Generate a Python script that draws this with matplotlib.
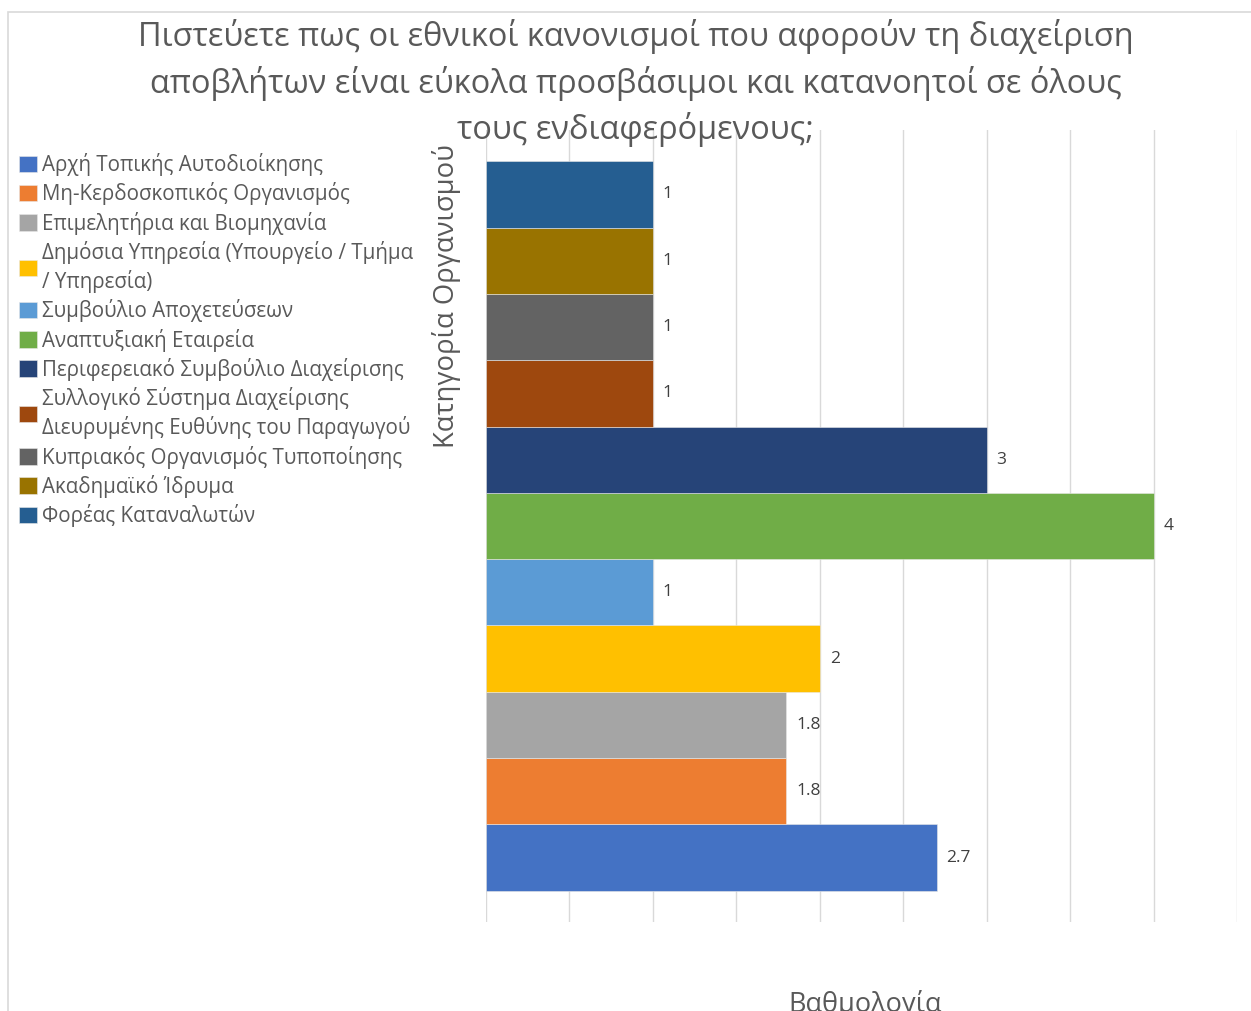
import matplotlib.pyplot as plt
from matplotlib.patches import Rectangle

plt.rcParams['font.family'] = ['Open Sans', 'DejaVu Sans']

# bars listed bottom to top
categories = [
    "Αρχή Τοπικής Αυτοδιοίκησης",
    "Μη-Κερδοσκοπικός Οργανισμός",
    "Επιμελητήρια και Βιομηχανία",
    "Δημόσια Υπηρεσία (Υπουργείο / Τμήμα\n/ Υπηρεσία)",
    "Συμβούλιο Αποχετεύσεων",
    "Αναπτυξιακή Εταιρεία",
    "Περιφερειακό Συμβούλιο Διαχείρισης",
    "Συλλογικό Σύστημα Διαχείρισης\nΔιευρυμένης Ευθύνης του Παραγωγού",
    "Κυπριακός Οργανισμός Τυποποίησης",
    "Ακαδημαϊκό Ίδρυμα",
    "Φορέας Καταναλωτών",
]
values = [2.7, 1.8, 1.8, 2, 1, 4, 3, 1, 1, 1, 1]
colors = ["#4472C4", "#ED7D31", "#A5A5A5", "#FFC000", "#5B9BD5", "#70AD47",
          "#264478", "#9E480E", "#636363", "#997300", "#255E91"]

title = ("Πιστεύετε πως οι εθνικοί κανονισμοί που αφορούν τη διαχείριση\n"
         "αποβλήτων είναι εύκολα προσβάσιμοι και κατανοητοί σε όλους\n"
         "τους ενδιαφερόμενους;")

fig = plt.figure(figsize=(12.51, 10.11), dpi=100)
fig.patches.append(Rectangle((8 / 1251, -0.1), 1.2, 1.1 - 12 / 1011,
                             transform=fig.transFigure, fill=False,
                             edgecolor="#D9D9D9", linewidth=1.2, zorder=0))

ax = fig.add_axes([486 / 1251, 1 - 922 / 1011, (1237 - 486) / 1251, (922 - 130) / 1011])

bars = []
for i, (cat, val, col) in enumerate(zip(categories, values, colors)):
    b = ax.barh(i, val, height=1.0, color=col, label=cat,
                edgecolor="#E8E8E8", linewidth=0.4, zorder=3)
    bars.append(b)
    ax.text(val + 0.06, i, f"{val:g}", va="center", ha="left",
            fontsize=12.5, color="#404040", zorder=4)

ax.set_xlim(0, 4.5)
ax.set_ylim(-0.97, 10.97)
ax.set_xticks([i * 0.5 for i in range(10)])
ax.set_xticklabels([])
ax.set_yticks([])
ax.tick_params(length=0)
ax.grid(axis="x", color="#D9D9D9", linewidth=1, zorder=0)
for s in ax.spines.values():
    s.set_visible(False)

ax.set_ylabel("Κατηγορία Οργανισμού", fontsize=19.8, color="#595959")
ax.yaxis.set_label_coords(-0.033, 0.79)
ax.set_xlabel("Βαθμολογία", fontsize=19.5, color="#595959")
ax.xaxis.set_label_coords(0.505, -0.086)

fig.text(0.508, 0.981, title, ha="center", va="top", fontsize=23.4,
         color="#595959", linespacing=1.42, zorder=5)

leg = fig.legend(handles=bars, labels=categories, loc="upper left",
                 bbox_to_anchor=(0.009, 1 - 145 / 1011), frameon=False,
                 fontsize=14.8, labelcolor="#595959", handlelength=0.85,
                 handleheight=0.85, handletextpad=0.25, labelspacing=0.3,
                 borderaxespad=0)
for t in leg.get_texts():
    t.set_linespacing(1.36)

fig.savefig("out.png", dpi=100)
